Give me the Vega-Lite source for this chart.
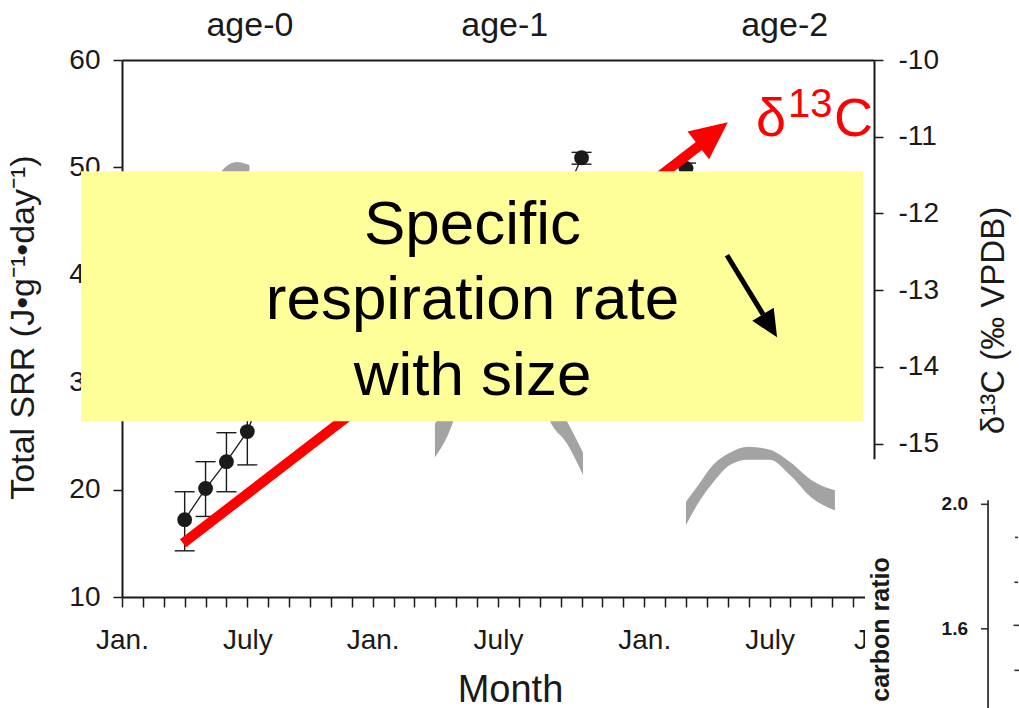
{
  "$schema": "https://vega.github.io/schema/vega-lite/v6.json",
  "width": 752,
  "height": 537,
  "autosize": {"type": "none"},
  "padding": {"left": 122, "top": 60, "right": 145, "bottom": 111},
  "background": "white",
  "config": {
    "font": "Liberation Sans",
    "view": {"stroke": null},
    "axis": {"grid": false, "zindex": 0, "labelFont": "Liberation Sans", "titleFont": "Liberation Sans", "labelColor": "#1a1a1a", "titleColor": "#1a1a1a", "domainColor": "#1a1a1a", "tickColor": "#1a1a1a", "domainWidth": 2, "tickWidth": 1.5, "titleFontWeight": "normal"}
  },
  "datasets": {
    "srr": [
      {"age": "age-0", "m": 3, "srr": 17.2, "lo": 14.3, "hi": 19.8},
      {"age": "age-0", "m": 4, "srr": 20.1, "lo": 17.5, "hi": 22.6},
      {"age": "age-0", "m": 5, "srr": 22.6, "lo": 19.8, "hi": 25.3},
      {"age": "age-0", "m": 6, "srr": 25.4, "lo": 22.3, "hi": 28.5},
      {"age": "age-0", "m": 7, "srr": 30.5, "lo": 27.8, "hi": 33.2},
      {"age": "age-0", "m": 8, "srr": 35.0, "lo": 32.2, "hi": 37.8},
      {"age": "age-1", "m": 16, "srr": 31.0, "lo": 29.0, "hi": 33.0},
      {"age": "age-1", "m": 17, "srr": 34.5, "lo": 32.5, "hi": 36.5},
      {"age": "age-1", "m": 18, "srr": 37.5, "lo": 35.5, "hi": 39.5},
      {"age": "age-1", "m": 19, "srr": 40.5, "lo": 38.8, "hi": 42.2},
      {"age": "age-1", "m": 20, "srr": 43.5, "lo": 42.0, "hi": 45.0},
      {"age": "age-1", "m": 21, "srr": 46.5, "lo": 45.5, "hi": 47.5},
      {"age": "age-1", "m": 22, "srr": 50.9, "lo": 50.3, "hi": 51.4},
      {"age": "age-2", "m": 27, "srr": 49.9, "lo": 49.4, "hi": 50.4},
      {"age": "age-2", "m": 28, "srr": 47.0, "lo": 46.0, "hi": 48.0},
      {"age": "age-2", "m": 29, "srr": 44.0, "lo": 42.8, "hi": 45.2},
      {"age": "age-2", "m": 30, "srr": 41.0, "lo": 39.6, "hi": 42.4}
    ],
    "d13c": [
      {"age": "age-0", "m": 3.0, "hi": -13.6, "lo": -13.95},
      {"age": "age-0", "m": 3.8, "hi": -12.5, "lo": -12.8},
      {"age": "age-0", "m": 4.4, "hi": -11.75, "lo": -12.0},
      {"age": "age-0", "m": 4.85, "hi": -11.42, "lo": -11.62},
      {"age": "age-0", "m": 5.5, "hi": -11.33, "lo": -11.52},
      {"age": "age-0", "m": 6.1, "hi": -11.37, "lo": -11.57},
      {"age": "age-1", "m": 14.98, "hi": -14.74, "lo": -15.18},
      {"age": "age-1", "m": 15.86, "hi": -14.3, "lo": -14.71},
      {"age": "age-1", "m": 16.6, "hi": -13.6, "lo": -13.95},
      {"age": "age-1", "m": 17.5, "hi": -13.1, "lo": -13.4},
      {"age": "age-1", "m": 18.5, "hi": -13.0, "lo": -13.3},
      {"age": "age-1", "m": 19.5, "hi": -13.55, "lo": -13.85},
      {"age": "age-1", "m": 20.49, "hi": -14.35, "lo": -14.71},
      {"age": "age-1", "m": 21.3, "hi": -14.71, "lo": -15.0},
      {"age": "age-1", "m": 22.07, "hi": -15.12, "lo": -15.41},
      {"age": "age-2", "m": 27.0, "hi": -15.76, "lo": -16.06},
      {"age": "age-2", "m": 27.67, "hi": -15.51, "lo": -15.74},
      {"age": "age-2", "m": 28.29, "hi": -15.28, "lo": -15.51},
      {"age": "age-2", "m": 29.1, "hi": -15.12, "lo": -15.28},
      {"age": "age-2", "m": 29.97, "hi": -15.04, "lo": -15.21},
      {"age": "age-2", "m": 31.02, "hi": -15.08, "lo": -15.21},
      {"age": "age-2", "m": 31.98, "hi": -15.24, "lo": -15.41},
      {"age": "age-2", "m": 33.03, "hi": -15.48, "lo": -15.71},
      {"age": "age-2", "m": 34.13, "hi": -15.61, "lo": -15.87}
    ]
  },
  "layer": [
    {
      "data": {"name": "d13c"},
      "mark": {"type": "area", "color": "#a3a3a3", "interpolate": "monotone"},
      "encoding": {
        "x": {"field": "m", "type": "quantitative", "scale": {"domain": [0, 36], "nice": false},
          "axis": {"orient": "top", "values": [6.1, 18.3, 31.7], "labelExpr": "datum.value < 10 ? 'age-0' : (datum.value < 25 ? 'age-1' : 'age-2')", "ticks": false, "tickSize": 0, "labelPadding": 25, "labelBaseline": "alphabetic", "labelFontSize": 34, "labelOverlap": false, "labelBound": false, "labelFlush": false, "title": null}},
        "y": {"field": "hi", "type": "quantitative", "scale": {"domain": [-17, -10], "nice": false, "zero": false},
          "axis": {"orient": "right", "values": [-10, -11, -12, -13, -14, -15], "labelExpr": "'' + datum.value", "tickSize": 9, "labelPadding": 15, "labelFontSize": 28, "title": "δ¹³C (‰ VPDB)", "titleFontSize": 33, "titleAngle": -90, "titleX": 129, "titleY": 260, "titleBaseline": "alphabetic", "titleAlign": "center"}},
        "y2": {"field": "lo"},
        "detail": {"field": "age"}
      }
    },
    {
      "data": {"name": "srr"},
      "mark": {"type": "line", "color": "#1a1a1a", "strokeWidth": 1.3},
      "encoding": {
        "x": {"field": "m", "type": "quantitative", "scale": {"domain": [0, 36], "nice": false},
          "axis": {"orient": "bottom", "values": [0,1,2,3,4,5,6,7,8,9,10,11,12,13,14,15,16,17,18,19,20,21,22,23,24,25,26,27,28,29,30,31,32,33,34,35,36],
            "labelExpr": "(datum.value == 0 || datum.value == 12 || datum.value == 25 || datum.value == 36) ? 'Jan.' : ((datum.value == 6 || datum.value == 18 || datum.value == 31) ? 'July' : '')",
            "labelOffset": {"condition": {"test": "datum.value == 36", "value": 6}, "value": 0},
            "labelFontSize": 28, "labelBaseline": "alphabetic", "labelPadding": 41, "tickSize": 10, "labelOverlap": false, "labelBound": false, "labelFlush": false,
            "title": "Month", "titleFontSize": 38, "titleX": 388, "titleY": 104, "titleBaseline": "alphabetic", "titleAlign": "center"}},
        "y": {"field": "srr", "type": "quantitative", "scale": {"domain": [10, 60], "nice": false, "zero": false},
          "axis": {"orient": "left", "values": [10, 20, 30, 40, 50, 60], "tickSize": 9, "labelPadding": 13, "labelFontSize": 28,
            "title": "Total SRR (J•g⁻¹•day⁻¹)", "titleFontSize": 34, "titleAngle": -90, "titleX": -89, "titleY": 267, "titleBaseline": "alphabetic", "titleAlign": "center"}},
        "detail": {"field": "age"}
      }
    },
    {
      "data": {"name": "srr"},
      "mark": {"type": "rule", "color": "#1a1a1a", "strokeWidth": 1.4},
      "encoding": {
        "x": {"field": "m", "type": "quantitative", "scale": {"domain": [0, 36], "nice": false}, "axis": null},
        "y": {"field": "lo", "type": "quantitative", "scale": {"domain": [10, 60], "nice": false, "zero": false}, "axis": null},
        "y2": {"field": "hi"}
      }
    },
    {
      "data": {"name": "srr"},
      "mark": {"type": "tick", "orient": "horizontal", "size": 20, "thickness": 1.4, "color": "#1a1a1a", "opacity": 1},
      "encoding": {
        "x": {"field": "m", "type": "quantitative", "scale": {"domain": [0, 36], "nice": false}, "axis": null},
        "y": {"field": "lo", "type": "quantitative", "scale": {"domain": [10, 60], "nice": false, "zero": false}, "axis": null}
      }
    },
    {
      "data": {"name": "srr"},
      "mark": {"type": "tick", "orient": "horizontal", "size": 20, "thickness": 1.4, "color": "#1a1a1a", "opacity": 1},
      "encoding": {
        "x": {"field": "m", "type": "quantitative", "scale": {"domain": [0, 36], "nice": false}, "axis": null},
        "y": {"field": "hi", "type": "quantitative", "scale": {"domain": [10, 60], "nice": false, "zero": false}, "axis": null}
      }
    },
    {
      "data": {"name": "srr"},
      "mark": {"type": "point", "shape": "circle", "filled": true, "size": 220, "color": "#1a1a1a", "opacity": 1},
      "encoding": {
        "x": {"field": "m", "type": "quantitative", "scale": {"domain": [0, 36], "nice": false}, "axis": null},
        "y": {"field": "srr", "type": "quantitative", "scale": {"domain": [10, 60], "nice": false, "zero": false}, "axis": null}
      }
    },
    {
      "data": {"values": [{"m": 2.92, "v": 15.0}, {"m": 27.91, "v": 52.43}]},
      "mark": {"type": "line", "color": "#ff0000", "strokeWidth": 10, "strokeCap": "butt"},
      "encoding": {
        "x": {"field": "m", "type": "quantitative", "scale": {"domain": [0, 36], "nice": false}, "axis": null},
        "y": {"field": "v", "type": "quantitative", "scale": {"domain": [10, 60], "nice": false, "zero": false}, "axis": null}
      }
    },
    {
      "data": {"values": [{"x1": -1.96, "x2": 35.47, "v1": 49.64, "v2": 26.36}]},
      "mark": {"type": "rect", "color": "#ffff99", "opacity": 1},
      "encoding": {
        "x": {"field": "x1", "type": "quantitative", "scale": {"domain": [0, 36], "nice": false}, "axis": null},
        "x2": {"field": "x2"},
        "y": {"field": "v1", "type": "quantitative", "scale": {"domain": [10, 60], "nice": false, "zero": false}, "axis": null},
        "y2": {"field": "v2"}
      }
    },
    {
      "data": {"values": [{"m": 28.06, "v": 52.77}]},
      "mark": {"type": "point", "shape": "M0,-1L0.7,0.5L-0.7,0.5Z", "size": 2500, "angle": 52, "filled": true, "color": "#ff0000", "opacity": 1},
      "encoding": {
        "x": {"field": "m", "type": "quantitative", "scale": {"domain": [0, 36], "nice": false}, "axis": null},
        "y": {"field": "v", "type": "quantitative", "scale": {"domain": [10, 60], "nice": false, "zero": false}, "axis": null}
      }
    },
    {
      "data": {"values": [
        {"m": 16.78, "v": 42.9, "t": "Specific"},
        {"m": 16.78, "v": 35.92, "t": "respiration rate"},
        {"m": 16.78, "v": 28.78, "t": "with size"}
      ]},
      "mark": {"type": "text", "fontSize": 62, "font": "Liberation Sans", "color": "#000000", "align": "center", "baseline": "alphabetic"},
      "encoding": {
        "x": {"field": "m", "type": "quantitative", "scale": {"domain": [0, 36], "nice": false}, "axis": null},
        "y": {"field": "v", "type": "quantitative", "scale": {"domain": [10, 60], "nice": false, "zero": false}, "axis": null},
        "text": {"field": "t"}
      }
    },
    {
      "data": {"values": [{"m": 28.96, "v": 41.82}, {"m": 30.69, "v": 36.32}]},
      "mark": {"type": "line", "color": "#000000", "strokeWidth": 5, "strokeCap": "butt"},
      "encoding": {
        "x": {"field": "m", "type": "quantitative", "scale": {"domain": [0, 36], "nice": false}, "axis": null},
        "y": {"field": "v", "type": "quantitative", "scale": {"domain": [10, 60], "nice": false, "zero": false}, "axis": null}
      }
    },
    {
      "data": {"values": [{"m": 30.91, "v": 35.61}]},
      "mark": {"type": "point", "shape": "M0,-1L0.7,0.5L-0.7,0.5Z", "size": 1296, "angle": 148.6, "filled": true, "color": "#000000", "opacity": 1},
      "encoding": {
        "x": {"field": "m", "type": "quantitative", "scale": {"domain": [0, 36], "nice": false}, "axis": null},
        "y": {"field": "v", "type": "quantitative", "scale": {"domain": [10, 60], "nice": false, "zero": false}, "axis": null}
      }
    },
    {
      "data": {"values": [{"m": 30.35, "v": 52.9, "t": "δ"}, {"m": 34.09, "v": 52.9, "t": "C"}]},
      "mark": {"type": "text", "fontSize": 54, "font": "Liberation Sans", "color": "#ff0000", "align": "left", "baseline": "alphabetic"},
      "encoding": {
        "x": {"field": "m", "type": "quantitative", "scale": {"domain": [0, 36], "nice": false}, "axis": null},
        "y": {"field": "v", "type": "quantitative", "scale": {"domain": [10, 60], "nice": false, "zero": false}, "axis": null},
        "text": {"field": "t"}
      }
    },
    {
      "data": {"values": [{"m": 31.88, "v": 54.67, "t": "13"}]},
      "mark": {"type": "text", "fontSize": 40, "font": "Liberation Sans", "color": "#ff0000", "align": "left", "baseline": "alphabetic"},
      "encoding": {
        "x": {"field": "m", "type": "quantitative", "scale": {"domain": [0, 36], "nice": false}, "axis": null},
        "y": {"field": "v", "type": "quantitative", "scale": {"domain": [10, 60], "nice": false, "zero": false}, "axis": null},
        "text": {"field": "t"}
      }
    },
    {
      "data": {"values": [{"x1": 35.57, "x2": 44, "v1": 22.82, "v2": -2}]},
      "mark": {"type": "rect", "color": "#ffffff", "opacity": 1},
      "encoding": {
        "x": {"field": "x1", "type": "quantitative", "scale": {"domain": [0, 36], "nice": false}, "axis": null},
        "x2": {"field": "x2"},
        "y": {"field": "v1", "type": "quantitative", "scale": {"domain": [10, 60], "nice": false, "zero": false}, "axis": null},
        "y2": {"field": "v2"}
      }
    },
    {
      "data": {"values": [{"m": 36.34, "v": 13.7, "t": "carbon ratio"}]},
      "mark": {"type": "text", "fontSize": 25, "fontWeight": "bold", "font": "Liberation Sans", "color": "#1a1a1a", "align": "right", "baseline": "middle", "angle": 270},
      "encoding": {
        "x": {"field": "m", "type": "quantitative", "scale": {"domain": [0, 36], "nice": false}, "axis": null},
        "y": {"field": "v", "type": "quantitative", "scale": {"domain": [10, 60], "nice": false, "zero": false}, "axis": null},
        "text": {"field": "t"}
      }
    },
    {
      "data": {"values": [{"m": 40.5, "v": 18.63, "t": "2.0"}, {"m": 40.5, "v": 7.04, "t": "1.6"}]},
      "mark": {"type": "text", "fontSize": 19, "fontWeight": "bold", "font": "Liberation Sans", "color": "#1a1a1a", "align": "right", "baseline": "middle"},
      "encoding": {
        "x": {"field": "m", "type": "quantitative", "scale": {"domain": [0, 36], "nice": false}, "axis": null},
        "y": {"field": "v", "type": "quantitative", "scale": {"domain": [10, 60], "nice": false, "zero": false}, "axis": null},
        "text": {"field": "t"}
      }
    },
    {
      "data": {"values": [{"m": 41.46, "v1": 19.0, "v2": -2}]},
      "mark": {"type": "rule", "color": "#1a1a1a", "strokeWidth": 1.6},
      "encoding": {
        "x": {"field": "m", "type": "quantitative", "scale": {"domain": [0, 36], "nice": false}, "axis": null},
        "y": {"field": "v1", "type": "quantitative", "scale": {"domain": [10, 60], "nice": false, "zero": false}, "axis": null},
        "y2": {"field": "v2"}
      }
    },
    {
      "data": {"values": [
        {"m1": 41.12, "m2": 41.46, "v": 18.63},
        {"m1": 41.12, "m2": 41.46, "v": 7.04},
        {"m1": 42.75, "m2": 42.9, "v": 15.55},
        {"m1": 42.72, "m2": 42.9, "v": 11.37},
        {"m1": 42.68, "m2": 43.0, "v": 7.36},
        {"m1": 42.72, "m2": 43.0, "v": 3.17}
      ]},
      "mark": {"type": "rule", "color": "#333333", "strokeWidth": 1.6},
      "encoding": {
        "x": {"field": "m1", "type": "quantitative", "scale": {"domain": [0, 36], "nice": false}, "axis": null},
        "x2": {"field": "m2"},
        "y": {"field": "v", "type": "quantitative", "scale": {"domain": [10, 60], "nice": false, "zero": false}, "axis": null}
      }
    }
  ],
  "resolve": {"scale": {"y": "independent"}, "axis": {"x": "independent", "y": "independent"}}
}
